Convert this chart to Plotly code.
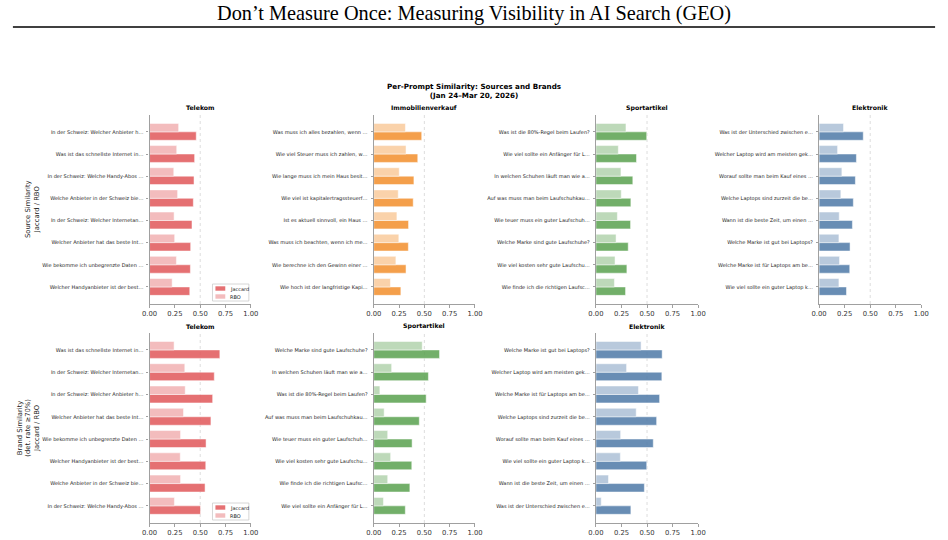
import plotly.graph_objects as go

W, H = 948, 540

# ---------------- data ----------------
tel_src_prompts = ["In der Schweiz: Welcher Anbieter h…", "Was ist das schnellste Internet in…",
                   "In der Schweiz: Welche Handy-Abos …", "Welche Anbieter in der Schweiz bie…",
                   "In der Schweiz: Welcher Internetan…", "Welcher Anbieter hat das beste Int…",
                   "Wie bekomme ich unbegrenzte Daten …", "Welcher Handyanbieter ist der best…"]
tel_src_jac = [0.461, 0.445, 0.439, 0.432, 0.419, 0.406, 0.403, 0.397]
tel_src_rbo = [0.287, 0.268, 0.239, 0.277, 0.242, 0.248, 0.265, 0.223]

imm_src_prompts = ["Was muss ich alles bezahlen, wenn …", "Wie viel Steuer muss ich zahlen, w…",
                   "Wie lange muss ich mein Haus besit…", "Wie viel ist kapitalertragssteuerf…",
                   "Ist es aktuell sinnvoll, ein Haus …", "Was muss ich beachten, wenn ich me…",
                   "Wie berechne ich den Gewinn einer …", "Wie hoch ist der langfristige Kapi…"]
imm_src_jac = [0.474, 0.435, 0.397, 0.390, 0.344, 0.342, 0.319, 0.268]
imm_src_rbo = [0.313, 0.319, 0.252, 0.242, 0.229, 0.248, 0.219, 0.165]

spo_src_prompts = ["Was ist die 80%-Regel beim Laufen?", "Wie viel sollte ein Anfänger für L…",
                   "In welchen Schuhen läuft man wie a…", "Auf was muss man beim Laufschuhkau…",
                   "Wie teuer muss ein guter Laufschuh…", "Welche Marke sind gute Laufschuhe?",
                   "Wie viel kosten sehr gute Laufschu…", "Wie finde ich die richtigen Laufsc…"]
spo_src_jac = [0.497, 0.397, 0.361, 0.342, 0.339, 0.316, 0.303, 0.290]
spo_src_rbo = [0.294, 0.219, 0.245, 0.248, 0.210, 0.197, 0.187, 0.181]

ele_src_prompts = ["Was ist der Unterschied zwischen e…", "Welcher Laptop wird am meisten gek…",
                   "Worauf sollte man beim Kauf eines …", "Welche Laptops sind zurzeit die be…",
                   "Wann ist die beste Zeit, um einen …", "Welche Marke ist gut bei Laptops?",
                   "Welche Marke ist für Laptops am be…", "Wie viel sollte ein guter Laptop k…"]
ele_src_jac = [0.432, 0.365, 0.355, 0.335, 0.326, 0.303, 0.300, 0.268]
ele_src_rbo = [0.239, 0.181, 0.223, 0.213, 0.197, 0.194, 0.200, 0.194]

tel_brd_prompts = ["Was ist das schnellste Internet in…", "In der Schweiz: Welcher Internetan…",
                   "In der Schweiz: Welcher Anbieter h…", "Welcher Anbieter hat das beste Int…",
                   "Wie bekomme ich unbegrenzte Daten …", "Welcher Handyanbieter ist der best…",
                   "Welche Anbieter in der Schweiz bie…", "In der Schweiz: Welche Handy-Abos …"]
tel_brd_jac = [0.694, 0.639, 0.623, 0.606, 0.558, 0.555, 0.548, 0.503]
tel_brd_rbo = [0.242, 0.348, 0.352, 0.335, 0.306, 0.303, 0.306, 0.245]

spo_brd_prompts = ["Welche Marke sind gute Laufschuhe?", "In welchen Schuhen läuft man wie a…",
                   "Was ist die 80%-Regel beim Laufen?", "Auf was muss man beim Laufschuhkau…",
                   "Wie teuer muss ein guter Laufschuh…", "Wie viel kosten sehr gute Laufschu…",
                   "Wie finde ich die richtigen Laufsc…", "Wie viel sollte ein Anfänger für L…"]
spo_brd_jac = [0.650, 0.540, 0.518, 0.450, 0.379, 0.376, 0.357, 0.312]
spo_brd_rbo = [0.479, 0.177, 0.061, 0.103, 0.138, 0.167, 0.138, 0.096]

ele_brd_prompts = ["Welche Marke ist gut bei Laptops?", "Welcher Laptop wird am meisten gek…",
                   "Welche Marke ist für Laptops am be…", "Welche Laptops sind zurzeit die be…",
                   "Worauf sollte man beim Kauf eines …", "Wie viel sollte ein guter Laptop k…",
                   "Wann ist die beste Zeit, um einen …", "Was ist der Unterschied zwischen e…"]
ele_brd_jac = [0.648, 0.645, 0.623, 0.594, 0.561, 0.497, 0.474, 0.342]
ele_brd_rbo = [0.442, 0.300, 0.416, 0.394, 0.242, 0.239, 0.123, 0.052]

x_ticks = [0, 0.25, 0.5, 0.75, 1.0]

# ---------------- styling ----------------
BASE = {"Telekom": (225, 87, 89), "Immobilienverkauf": (242, 142, 43),
        "Sportartikel": (89, 161, 79), "Elektronik": (78, 121, 167)}
FONT = "DejaVu Sans"

def px2x(p):
    return p / W

def px2y(p):
    return 1 - p / H

col_px = [(144, 247), (372, 475), (598, 702), (825, 929)]
row_px = [(115, 304), (333, 523)]

panels = [
    ("Telekom", 0, 0, tel_src_prompts, tel_src_jac, tel_src_rbo),
    ("Immobilienverkauf", 0, 1, imm_src_prompts, imm_src_jac, imm_src_rbo),
    ("Sportartikel", 0, 2, spo_src_prompts, spo_src_jac, spo_src_rbo),
    ("Elektronik", 0, 3, ele_src_prompts, ele_src_jac, ele_src_rbo),
    ("Telekom", 1, 0, tel_brd_prompts, tel_brd_jac, tel_brd_rbo),
    ("Sportartikel", 1, 1, spo_brd_prompts, spo_brd_jac, spo_brd_rbo),
    ("Elektronik", 1, 2, ele_brd_prompts, ele_brd_jac, ele_brd_rbo),
]

fig = go.Figure()
annotations = []
shapes = []
layout_axes = {}

for i, (name, r, c, prompts, jac, rbo) in enumerate(panels):
    n = i + 1
    xa = "x" if n == 1 else f"x{n}"
    ya = "y" if n == 1 else f"y{n}"
    rgb = BASE[name]
    cj = f"rgba({rgb[0]},{rgb[1]},{rgb[2]},0.85)"
    cr = f"rgba({rgb[0]},{rgb[1]},{rgb[2]},0.40)"
    fig.add_trace(go.Bar(y=prompts, x=jac, orientation="h", name="Jaccard",
                         width=0.38, offset=0.0, marker=dict(color=cj, line=dict(color="white", width=0.5)),
                         xaxis=xa, yaxis=ya, showlegend=False,
                         hovertemplate="%{y}<br>Jaccard: %{x:.3f}<extra></extra>"))
    fig.add_trace(go.Bar(y=prompts, x=rbo, orientation="h", name="RBO",
                         width=0.38, offset=-0.38, marker=dict(color=cr, line=dict(color="white", width=0.5)),
                         xaxis=xa, yaxis=ya, showlegend=False,
                         hovertemplate="%{y}<br>RBO: %{x:.3f}<extra></extra>"))
    x0, x1 = col_px[c]
    y0, y1 = row_px[r]
    xkey = "xaxis" if n == 1 else f"xaxis{n}"
    ykey = "yaxis" if n == 1 else f"yaxis{n}"
    layout_axes[xkey] = dict(domain=[px2x(x0), px2x(x1)], anchor=ya, range=[0, 1.0],
                             tickvals=x_ticks, tickformat=".2f", showgrid=False, zeroline=False,
                             showline=True, linecolor="#a0a0a0", linewidth=1.3,
                             ticks="outside", ticklen=3, tickcolor="#a0a0a0", tickwidth=1,
                             tickfont=dict(family=FONT, size=6.8, color="#333333"))
    layout_axes[ykey] = dict(domain=[px2y(y1), px2y(y0)], anchor=xa, range=[7.77, -0.76],
                             type="category", categoryorder="array", categoryarray=prompts,
                             showgrid=False, zeroline=False,
                             showline=True, linecolor="#a0a0a0", linewidth=1.3,
                             ticks="outside", ticklen=2, tickcolor="#a0a0a0", tickwidth=0.8,
                             ticklabelstandoff=2,
                             tickfont=dict(family=FONT, size=5, color="#222222"))
    # subplot title
    annotations.append(dict(text=f"<b>{name}</b>", x=px2x((x0 + x1) / 2), y=px2y(y0 - 7),
                            xref="paper", yref="paper", showarrow=False, xanchor="center",
                            yanchor="middle", font=dict(family=FONT, size=6.2, color="black")))
    # dotted reference line at 0.5
    shapes.append(dict(type="line", xref=xa, yref=f"{ya} domain", x0=0.5, x1=0.5, y0=0, y1=1,
                       line=dict(color="#dddddd", width=1, dash="dot"), layer="below"))

    # legend box in first column
    if c == 0:
        lx0, lx1 = 208, 245
        ly0 = y1 - 20
        ly1 = y1 - 3
        shapes.append(dict(type="rect", xref="paper", yref="paper", x0=px2x(lx0), x1=px2x(lx1),
                           y0=px2y(ly1), y1=px2y(ly0), line=dict(color="#cccccc", width=0.8),
                           fillcolor="rgba(255,255,255,0.8)"))
        for k, (lab, col) in enumerate([("Jaccard", cj), ("RBO", cr)]):
            cy = ly0 + 4.5 + k * 8
            shapes.append(dict(type="rect", xref="paper", yref="paper", x0=px2x(211), x1=px2x(221),
                               y0=px2y(cy + 2.2), y1=px2y(cy - 2.2), line=dict(width=0),
                               fillcolor=col))
            annotations.append(dict(text=lab, x=px2x(224), y=px2y(cy), xref="paper", yref="paper",
                                    showarrow=False, xanchor="left", yanchor="middle",
                                    font=dict(family=FONT, size=5, color="#222222")))

# row labels
annotations.append(dict(text="Source Similarity<br>Jaccard / RBO", x=px2x(25), y=px2y(209.5),
                        xref="paper", yref="paper", showarrow=False, textangle=-90,
                        xanchor="center", yanchor="middle",
                        font=dict(family=FONT, size=6.8, color="#222222")))
annotations.append(dict(text="Brand Similarity<br>(det. rate ≥70%)<br>Jaccard / RBO", x=px2x(21),
                        y=px2y(428), xref="paper", yref="paper", showarrow=False, textangle=-90,
                        xanchor="center", yanchor="middle",
                        font=dict(family=FONT, size=6.8, color="#222222")))

# suptitle
annotations.append(dict(text="<b>Per-Prompt Similarity: Sources and Brands<br>(Jan 24–Mar 20, 2026)</b>",
                        x=px2x(474), y=px2y(90.5), xref="paper", yref="paper", showarrow=False,
                        xanchor="center", yanchor="middle",
                        font=dict(family=FONT, size=7.2, color="black")))

# page title
annotations.append(dict(text="Don’t Measure Once: Measuring Visibility in AI Search (GEO)",
                        x=0.5, y=px2y(14), xref="paper", yref="paper", showarrow=False,
                        xanchor="center", yanchor="middle",
                        font=dict(family="Liberation Serif", size=20.3, color="black")))
shapes.append(dict(type="line", xref="paper", yref="paper", x0=px2x(5), x1=px2x(943),
                   y0=px2y(27), y1=px2y(27), line=dict(color="black", width=1.3)))

fig.update_layout(width=W, height=H, margin=dict(l=0, r=0, t=0, b=0),
                  paper_bgcolor="white", plot_bgcolor="white", barmode="overlay",
                  showlegend=False, annotations=annotations, shapes=shapes,
                  font=dict(family=FONT), **layout_axes)

fig.write_html("out.html")
